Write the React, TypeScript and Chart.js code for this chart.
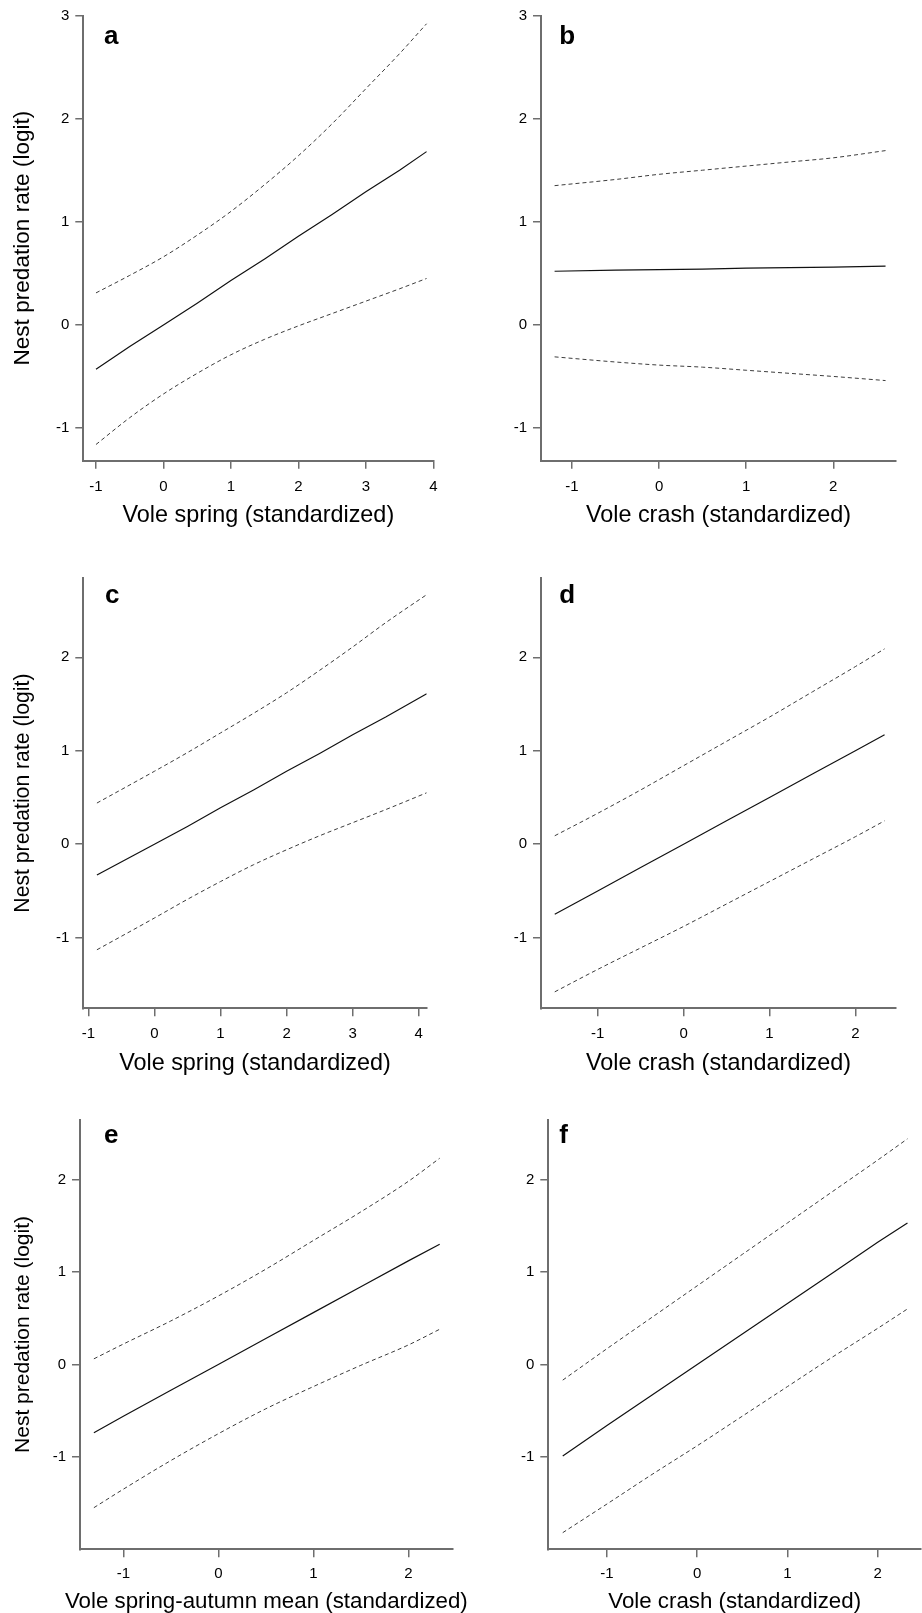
import React, { useEffect, useRef } from "react";
import { Chart, registerables } from "chart.js";

Chart.register(...registerables);

const FONT = "'Liberation Sans', Arial, Helvetica, sans-serif";
const TICK_SIZE = 15;
const AXIS_COLOR = "#6e6e6e";
const Y_TITLE = "Nest predation rate (logit)";

// ---------- Panel a ----------
const A_X = [-1, -0.5, 0, 0.5, 1, 1.5, 2, 2.5, 3, 3.5, 3.9];
const A_FIT = [-0.43, -0.21, 0.0, 0.21, 0.43, 0.64, 0.86, 1.07, 1.29, 1.5, 1.68];
const A_UPPER = [0.31, 0.48, 0.66, 0.87, 1.1, 1.36, 1.64, 1.95, 2.29, 2.63, 2.92];
const A_LOWER = [-1.16, -0.9, -0.67, -0.47, -0.29, -0.14, -0.01, 0.11, 0.23, 0.35, 0.45];
const A_XTICKS = [-1, 0, 1, 2, 3, 4];
const A_YTICKS = [-1, 0, 1, 2, 3];

// ---------- Panel b ----------
const B_X = [-1.2, -0.5, 0, 0.5, 1, 1.5, 2, 2.6];
const B_FIT = [0.52, 0.53, 0.535, 0.54, 0.55, 0.555, 0.56, 0.57];
const B_UPPER = [1.35, 1.41, 1.46, 1.5, 1.54, 1.58, 1.62, 1.69];
const B_LOWER = [-0.31, -0.36, -0.39, -0.41, -0.44, -0.47, -0.5, -0.54];
const B_XTICKS = [-1, 0, 1, 2];
const B_YTICKS = [-1, 0, 1, 2, 3];

// ---------- Panel c ----------
const C_X = [-0.87, 0, 0.5, 1, 1.5, 2, 2.5, 3, 3.5, 4.12];
const C_FIT = [-0.33, 0.0, 0.19, 0.39, 0.58, 0.78, 0.97, 1.17, 1.36, 1.61];
const C_UPPER = [0.44, 0.78, 0.98, 1.19, 1.4, 1.62, 1.86, 2.11, 2.37, 2.67];
const C_LOWER = [-1.13, -0.79, -0.59, -0.4, -0.22, -0.06, 0.09, 0.23, 0.37, 0.55];
const C_XTICKS = [-1, 0, 1, 2, 3, 4];
const C_YTICKS = [-1, 0, 1, 2];

// ---------- Panel d ----------
const D_X = [-1.5, -1, -0.5, 0, 0.5, 1, 1.5, 2, 2.34];
const D_FIT = [-0.75, -0.5, -0.25, 0, 0.25, 0.5, 0.75, 1.0, 1.17];
const D_UPPER = [0.09, 0.33, 0.58, 0.84, 1.1, 1.36, 1.63, 1.9, 2.09];
const D_LOWER = [-1.58, -1.34, -1.11, -0.88, -0.64, -0.4, -0.16, 0.08, 0.25];
const D_XTICKS = [-1, 0, 1, 2];
const D_YTICKS = [-1, 0, 1, 2];

// ---------- Panel e ----------
const E_X = [-1.31, -1, -0.5, 0, 0.5, 1, 1.5, 2, 2.33];
const E_FIT = [-0.74, -0.56, -0.28, 0, 0.28, 0.56, 0.84, 1.12, 1.3];
const E_UPPER = [0.06, 0.22, 0.47, 0.74, 1.03, 1.34, 1.65, 1.98, 2.23];
const E_LOWER = [-1.55, -1.35, -1.04, -0.75, -0.48, -0.24, -0.01, 0.21, 0.38];
const E_XTICKS = [-1, 0, 1, 2];
const E_YTICKS = [-1, 0, 1, 2];

// ---------- Panel f ----------
const F_X = [-1.49, -1, -0.5, 0, 0.5, 1, 1.5, 2, 2.33];
const F_FIT = [-0.99, -0.66, -0.33, 0, 0.33, 0.66, 0.99, 1.32, 1.53];
const F_UPPER = [-0.17, 0.17, 0.51, 0.85, 1.19, 1.53, 1.87, 2.21, 2.44];
const F_LOWER = [-1.82, -1.51, -1.19, -0.88, -0.56, -0.24, 0.08, 0.39, 0.6];
const F_XTICKS = [-1, 0, 1, 2];
const F_YTICKS = [-1, 0, 1, 2];

type Panel = {
  letter: string;
  x: number[];
  fit: number[];
  upper: number[];
  lower: number[];
  xTicks: number[];
  yTicks: number[];
  xRange: [number, number];
  yRange: [number, number];
  xTitle: string;
  xTitleSize: number;
  xTitleDy: number;
  yTitleSize: number; // 0 = no title
  yTitlePad: number;
  xTickPad: number;
  box: { l: number; t: number; w: number; h: number };
  area: { L: number; R: number; T: number; B: number };
  letterPos: [number, number];
};

const PANELS: Panel[] = [
  {
    letter: "a", x: A_X, fit: A_FIT, upper: A_UPPER, lower: A_LOWER,
    xTicks: A_XTICKS, yTicks: A_YTICKS, xRange: [-1.188, 4.0], yRange: [-1.317, 3.0],
    xTitle: "Vole spring (standardized)", xTitleSize: 23.4, xTitleDy: 54.8,
    yTitleSize: 22.6, yTitlePad: 9.7, xTickPad: 9.5,
    box: { l: 0, t: 0, w: 461, h: 540 }, area: { L: 83.3, R: 433.3, T: 15.5, B: 460.7 },
    letterPos: [104, 44],
  },
  {
    letter: "b", x: B_X, fit: B_FIT, upper: B_UPPER, lower: B_LOWER,
    xTicks: B_XTICKS, yTicks: B_YTICKS, xRange: [-1.356, 2.72], yRange: [-1.317, 3.0],
    xTitle: "Vole crash (standardized)", xTitleSize: 23.4, xTitleDy: 54.8,
    yTitleSize: 0, yTitlePad: 0, xTickPad: 9.5,
    box: { l: 461, t: 0, w: 461, h: 540 }, area: { L: 541, R: 896, T: 15.5, B: 460.7 },
    letterPos: [559.3, 44],
  },
  {
    letter: "c", x: C_X, fit: C_FIT, upper: C_UPPER, lower: C_LOWER,
    xTicks: C_XTICKS, yTicks: C_YTICKS, xRange: [-1.076, 4.12], yRange: [-1.756, 2.849],
    xTitle: "Vole spring (standardized)", xTitleSize: 23.4, xTitleDy: 55.1,
    yTitleSize: 21.2, yTitlePad: 10.6, xTickPad: 8.5,
    box: { l: 0, t: 540, w: 461, h: 540 }, area: { L: 83.3, R: 426.7, T: 577.9, B: 1008.3 },
    letterPos: [105, 602.8],
  },
  {
    letter: "d", x: D_X, fit: D_FIT, upper: D_UPPER, lower: D_LOWER,
    xTicks: D_XTICKS, yTicks: D_YTICKS, xRange: [-1.66, 2.473], yRange: [-1.756, 2.849],
    xTitle: "Vole crash (standardized)", xTitleSize: 23.4, xTitleDy: 55.1,
    yTitleSize: 0, yTitlePad: 0, xTickPad: 8.5,
    box: { l: 461, t: 540, w: 461, h: 540 }, area: { L: 541, R: 896, T: 577.9, B: 1008.3 },
    letterPos: [559.3, 602.8],
  },
  {
    letter: "e", x: E_X, fit: E_FIT, upper: E_UPPER, lower: E_LOWER,
    xTicks: E_XTICKS, yTicks: E_YTICKS, xRange: [-1.456, 2.467], yRange: [-2.0, 2.648],
    xTitle: "Vole spring-autumn mean (standardized)", xTitleSize: 22.3, xTitleDy: 52.2,
    yTitleSize: 21, yTitlePad: 10.7, xTickPad: 8,
    box: { l: 0, t: 1080, w: 472, h: 533 }, area: { L: 80, R: 452.7, T: 1119.6, B: 1549.3 },
    letterPos: [104, 1142.6],
  },
  {
    letter: "f", x: F_X, fit: F_FIT, upper: F_UPPER, lower: F_LOWER,
    xTicks: F_XTICKS, yTicks: F_YTICKS, xRange: [-1.65, 2.48], yRange: [-2.0, 2.648],
    xTitle: "Vole crash (standardized)", xTitleSize: 22.3, xTitleDy: 52.2,
    yTitleSize: 0, yTitlePad: 0, xTickPad: 8,
    box: { l: 472, t: 1080, w: 450, h: 533 }, area: { L: 548.3, R: 921, T: 1119.6, B: 1549.3 },
    letterPos: [559.3, 1142.6],
  },
];

const panelTextPlugin = {
  id: "panelText",
  afterDraw(chart: any, _args: any, opts: any) {
    const { ctx, chartArea } = chart;
    ctx.save();
    ctx.fillStyle = "#000";
    ctx.font = `bold ${opts.letterSize}px ${FONT}`;
    ctx.textAlign = "left";
    ctx.textBaseline = "alphabetic";
    ctx.fillText(opts.letter, opts.letterX, opts.letterY);
    ctx.font = `${opts.titleSize}px ${FONT}`;
    ctx.textAlign = "center";
    ctx.textBaseline = "middle";
    ctx.fillText(opts.xTitle, (chartArea.left + chartArea.right) / 2, chartArea.bottom + opts.titleDy);
    ctx.restore();
  },
};

function PanelChart({ p }: { p: Panel }) {
  const ref = useRef<HTMLCanvasElement>(null);
  useEffect(() => {
    const { box, area } = p;
    const yAxisW = area.L - box.l;
    const padTop = area.T - box.t;
    const padRight = box.l + box.w - area.R;
    const xAxisH = box.t + box.h - area.B;
    const pts = (ys: number[]) => p.x.map((x, i) => ({ x, y: ys[i] }));
    const dashed = {
      borderColor: "#3c3c3c", borderWidth: 1, borderDash: [4, 3], pointRadius: 0,
      cubicInterpolationMode: "monotone", fill: false,
    };
    const chart = new Chart(ref.current as HTMLCanvasElement, {
      type: "line",
      data: {
        datasets: [
          { label: "upper", data: pts(p.upper), ...dashed } as any,
          { label: "fit", data: pts(p.fit), borderColor: "#111", borderWidth: 1.2, pointRadius: 0, tension: 0, fill: false },
          { label: "lower", data: pts(p.lower), ...dashed } as any,
        ],
      },
      options: {
        responsive: false,
        animation: false,
        devicePixelRatio: 1,
        events: [],
        layout: { padding: { left: 0, top: padTop, right: padRight, bottom: 0 } },
        plugins: {
          legend: { display: false },
          tooltip: { enabled: false },
          title: { display: false },
          panelText: {
            letter: p.letter, letterSize: 26,
            letterX: p.letterPos[0] - box.l, letterY: p.letterPos[1] - box.t,
            xTitle: p.xTitle, titleSize: p.xTitleSize, titleDy: p.xTitleDy,
          },
        } as any,
        scales: {
          x: {
            type: "linear",
            position: "bottom",
            min: p.xRange[0],
            max: p.xRange[1],
            afterBuildTicks: (s: any) => { s.ticks = p.xTicks.map((v) => ({ value: v })); },
            afterFit: (s: any) => { s.height = xAxisH; },
            grid: { display: true, drawOnChartArea: false, drawTicks: true, tickLength: 8, color: AXIS_COLOR, lineWidth: 1.5 },
            border: { display: true, color: AXIS_COLOR, width: 2 },
            ticks: {
              autoSkip: false, maxRotation: 0, minRotation: 0, padding: p.xTickPad, color: "#000",
              font: { family: FONT, size: TICK_SIZE },
            },
            title: { display: false },
          },
          y: {
            type: "linear",
            position: "left",
            min: p.yRange[0],
            max: p.yRange[1],
            afterBuildTicks: (s: any) => { s.ticks = p.yTicks.map((v) => ({ value: v })); },
            afterFit: (s: any) => { s.width = yAxisW; },
            grid: { display: true, drawOnChartArea: false, drawTicks: true, tickLength: 8, color: AXIS_COLOR, lineWidth: 1.5 },
            border: { display: true, color: AXIS_COLOR, width: 2 },
            ticks: {
              autoSkip: false, padding: 6, color: "#000",
              font: { family: FONT, size: TICK_SIZE },
            },
            title: {
              display: p.yTitleSize > 0,
              text: Y_TITLE,
              color: "#000",
              font: { family: FONT, size: p.yTitleSize || 12 },
              padding: { top: p.yTitlePad, bottom: 0 },
            },
          },
        },
      } as any,
      plugins: [panelTextPlugin as any],
    });
    return () => chart.destroy();
  }, [p]);
  return (
    <canvas
      ref={ref}
      width={p.box.w}
      height={p.box.h}
      style={{ position: "absolute", left: p.box.l, top: p.box.t, width: p.box.w, height: p.box.h }}
    />
  );
}

export default function App() {
  return (
    <div style={{ position: "absolute", left: 0, top: 0, width: 922, height: 1613, overflow: "hidden", background: "#fff" }}>
      {PANELS.map((p) => (
        <PanelChart key={p.letter} p={p} />
      ))}
    </div>
  );
}
